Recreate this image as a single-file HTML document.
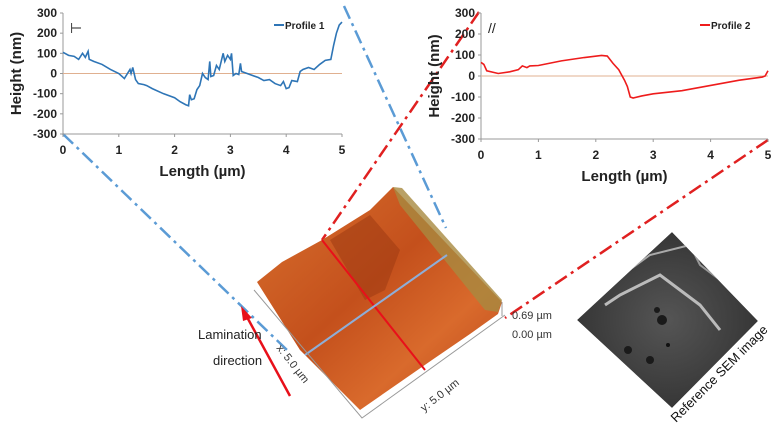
<!DOCTYPE html>
<html><head><meta charset="utf-8"><style>
body{margin:0;background:#fff;}
svg{display:block;font-family:"Liberation Sans",sans-serif;}
</style></head><body>
<svg id="fig" width="784" height="431" viewBox="0 0 784 431">
<defs>
<linearGradient id="og" x1="0" y1="0" x2="1" y2="1">
<stop offset="0" stop-color="#d8702e"/><stop offset="0.45" stop-color="#c4501c"/><stop offset="0.7" stop-color="#d96a2c"/><stop offset="1" stop-color="#b8441a"/>
</linearGradient>
<radialGradient id="sg" cx="0.5" cy="0.5" r="0.7"><stop offset="0" stop-color="#555"/><stop offset="1" stop-color="#2a2a2a"/></radialGradient>
<clipPath id="semclip"><polygon points="672,232 758,321 672,408 577,320"/></clipPath>
</defs>
<line x1="63" y1="134" x2="287" y2="350" stroke="#5b9bd5" stroke-width="2.5" stroke-dasharray="14,5,3,5"/>
<line x1="344" y1="6" x2="446" y2="228" stroke="#5b9bd5" stroke-width="2.5" stroke-dasharray="14,5,3,5"/>
<line x1="479" y1="12" x2="322" y2="240" stroke="#e02020" stroke-width="2.5" stroke-dasharray="14,5,3,5"/>
<line x1="768" y1="140" x2="505" y2="318" stroke="#e02020" stroke-width="2.5" stroke-dasharray="14,5,3,5"/>
<g>
<polygon points="393,187 502,302 498,314 470,334 432,360 360,410 300,350 257,282 282,262 322,240 370,210" fill="url(#og)"/>
<polygon points="393,187 402,188 502,300 498,312 485,310 400,205" fill="#a88a40" opacity="0.8"/>
<polygon points="330,240 370,215 400,250 385,290 365,300" fill="#9e3a12" opacity="0.55"/>
<line x1="322" y1="240" x2="425" y2="370" stroke="#e8101a" stroke-width="2"/>
<line x1="305" y1="355" x2="447" y2="255" stroke="#8eaed8" stroke-width="2"/>
<polyline points="254,290 362,418 505,315" fill="none" stroke="#999" stroke-width="1"/>
<line x1="502" y1="302" x2="502" y2="316" stroke="#999" stroke-width="1"/>
</g>
<text x="512" y="319" font-size="11" fill="#333">0.69 µm</text>
<text x="512" y="338" font-size="11" fill="#333">0.00 µm</text>
<text transform="translate(276,348) rotate(52)" font-size="11" fill="#333">x: 5.0 µm</text>
<text transform="translate(424,412) rotate(-38)" font-size="11" fill="#333">y: 5.0 µm</text>
<line x1="290" y1="396" x2="247" y2="317" stroke="#e8101a" stroke-width="2.5"/>
<polygon points="241,306 252,318 243,321" fill="#e8101a"/>
<text x="198" y="339" font-size="13" fill="#222">Lamination</text>
<text x="213" y="365" font-size="13" fill="#222">direction</text>
<g clip-path="url(#semclip)">
<polygon points="672,232 758,321 672,408 577,320" fill="url(#sg)"/>
<polyline points="605,305 620,295 660,275 700,305 720,330" fill="none" stroke="#bbb" stroke-width="3"/>
<polyline points="610,270 632,268 650,255 690,245 715,265" fill="none" stroke="#aaa" stroke-width="2"/>
<polyline points="690,245 700,265 720,280 740,300" fill="none" stroke="#999" stroke-width="2"/>
<circle cx="662" cy="320" r="5" fill="#1a1a1a"/><circle cx="657" cy="310" r="3" fill="#1a1a1a"/><circle cx="650" cy="360" r="4" fill="#1a1a1a"/><circle cx="628" cy="350" r="4" fill="#1a1a1a"/><circle cx="668" cy="345" r="2" fill="#111"/>
</g>
<text transform="translate(676,423) rotate(-45)" font-size="13" fill="#111">Reference SEM image</text>
<g id="c1"></g>
<g id="c2"></g>
</svg>
<script>
const xTicks=[0,1,2,3,4,5];
const yTicks=[300,200,100,0,-100,-200,-300];
const p1X=[0,0.1,0.2,0.28,0.35,0.4,0.45,0.47,0.55,0.7,0.85,1.0,1.1,1.2,1.22,1.25,1.3,1.35,1.45,1.5,1.6,1.8,2.0,2.1,2.2,2.25,2.27,2.3,2.35,2.4,2.45,2.5,2.55,2.6,2.63,2.65,2.7,2.75,2.8,2.87,2.9,2.95,3.0,3.02,3.05,3.1,3.15,3.18,3.2,3.3,3.5,3.6,3.7,3.8,3.9,3.95,4.0,4.05,4.1,4.2,4.25,4.3,4.4,4.5,4.6,4.7,4.8,4.85,4.9,4.95,5.0];
const p1Y=[105,90,85,70,100,80,110,70,60,45,20,0,-25,20,0,30,-30,-50,-55,-60,-75,-100,-120,-140,-155,-160,-105,-130,-125,-80,-60,0,-20,-30,60,-15,-10,40,20,100,60,90,70,100,-10,0,-5,50,10,0,-20,-35,-30,-50,-60,-40,-75,-70,-35,-40,10,20,30,20,45,65,70,140,200,240,255];
const p2X=[0,0.05,0.1,0.3,0.5,0.65,0.72,0.8,0.85,1.0,1.4,1.8,2.1,2.2,2.3,2.4,2.45,2.5,2.55,2.6,2.65,2.8,3.0,3.5,4.0,4.5,4.9,4.95,5.0];
const p2Y=[65,55,25,12,20,30,48,40,48,50,72,88,98,95,60,30,5,-20,-50,-100,-105,-95,-85,-70,-45,-20,-5,0,25];
const NS="http://www.w3.org/2000/svg";
function mk(g,t,a){const e=document.createElementNS(NS,t);for(const k in a)e.setAttribute(k,a[k]);g.appendChild(e);return e;}
function chart(id,x0,x1,y0,y1,xs,ys,color,legend,symbol,name){
 const g=document.getElementById(id);
 const sx=v=>x0+(x1-x0)*v/5, sy=v=>y0+(y1-y0)*(300-v)/600;
 let e=mk(g,'line',{x1:x0,y1:y0,x2:x0,y2:y1,stroke:'#999'});
 
 e=mk(g,'line',{x1:x0,y1:y1,x2:x1,y2:y1,stroke:'#999'});
 
 e=mk(g,'line',{x1:x0,y1:sy(0),x2:x1,y2:sy(0),stroke:'#e0b090','stroke-width':1});
 
 yTicks.forEach(v=>{e=mk(g,'text',{x:x0-6,y:sy(v)+4,'text-anchor':'end','font-size':12,'font-weight':'bold',fill:'#222'});e.textContent=v;
  
  mk(g,'line',{x1:x0-3,y1:sy(v),x2:x0,y2:sy(v),stroke:'#999'});});
 xTicks.forEach(v=>{e=mk(g,'text',{x:sx(v),y:y1+20,'text-anchor':'middle','font-size':12,'font-weight':'bold',fill:'#222'});e.textContent=v;
  
  mk(g,'line',{x1:sx(v),y1:y1,x2:sx(v),y2:y1+3,stroke:'#999'});});
 e=mk(g,'text',{x:(x0+x1)/2,y:y1+42,'text-anchor':'middle','font-size':15,'font-weight':'bold',fill:'#222'});e.textContent='Length (µm)';
 
 e=mk(g,'text',{transform:`translate(${x0-42},${(y0+y1)/2}) rotate(-90)`,'text-anchor':'middle','font-size':15,'font-weight':'bold',fill:'#222'});e.textContent='Height (nm)';
 
 e=mk(g,'polyline',{points:xs.map((v,i)=>sx(v)+','+sy(ys[i])).join(' '),fill:'none',stroke:color,'stroke-width':1.6});
 
 mk(g,'line',{x1:x1-68,y1:y0+12,x2:x1-58,y2:y0+12,stroke:color,'stroke-width':2});
 e=mk(g,'text',{x:x1-57,y:y0+16,'font-size':10,'font-weight':'bold',fill:'#222'});e.textContent=legend;
 
 e=mk(g,'text',{x:x0+7,y:y0+20,'font-size':14,fill:'#222'});e.textContent=symbol;
 
}
chart('c1',63,342,13,134,p1X,p1Y,'#2e75b6','Profile 1','⊢','profile-1-series');
chart('c2',481,768,13,139,p2X,p2Y,'#ee1c1c','Profile 2','//','profile-2-series');
</script>
</body></html>
